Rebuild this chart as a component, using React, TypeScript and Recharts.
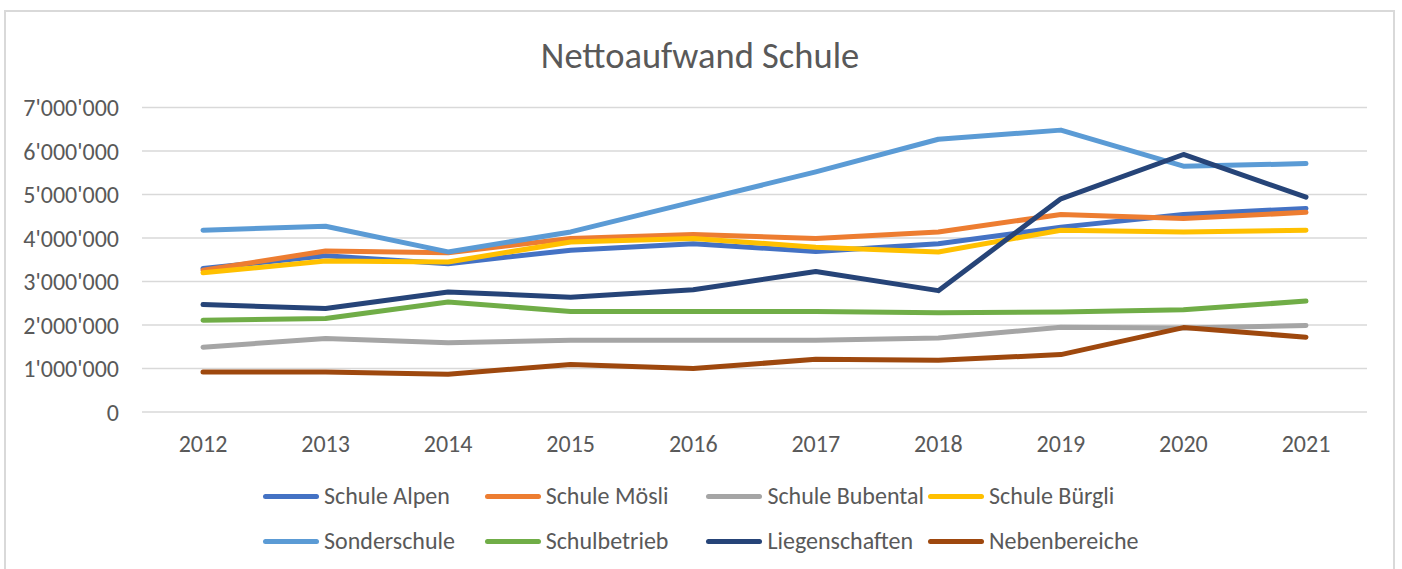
import React from "react";
import { LineChart, Line, XAxis, YAxis, CartesianGrid } from "recharts";

const years = ["2012", "2013", "2014", "2015", "2016", "2017", "2018", "2019", "2020", "2021"];

const schuleAlpen = [3300000, 3590000, 3410000, 3720000, 3870000, 3690000, 3870000, 4250000, 4540000, 4680000];
const schuleMoesli = [3260000, 3700000, 3660000, 3990000, 4080000, 3990000, 4140000, 4540000, 4450000, 4590000];
const schuleBubental = [1490000, 1690000, 1590000, 1650000, 1650000, 1650000, 1700000, 1950000, 1930000, 1990000];
const schuleBuergli = [3200000, 3470000, 3450000, 3910000, 3990000, 3790000, 3680000, 4180000, 4140000, 4180000];
const sonderschule = [4180000, 4270000, 3680000, 4140000, 4830000, 5520000, 6270000, 6480000, 5650000, 5710000];
const schulbetrieb = [2110000, 2150000, 2530000, 2310000, 2310000, 2310000, 2280000, 2300000, 2350000, 2550000];
const liegenschaften = [2470000, 2380000, 2760000, 2640000, 2810000, 3230000, 2790000, 4900000, 5920000, 4940000];
const nebenbereiche = [920000, 920000, 870000, 1090000, 1000000, 1210000, 1190000, 1320000, 1940000, 1720000];

const yTicks = [0, 1000000, 2000000, 3000000, 4000000, 5000000, 6000000, 7000000];

const series = [
  { key: "alpen", name: "Schule Alpen", values: schuleAlpen, color: "#4472C4" },
  { key: "moesli", name: "Schule Mösli", values: schuleMoesli, color: "#ED7D31" },
  { key: "bubental", name: "Schule Bubental", values: schuleBubental, color: "#A5A5A5" },
  { key: "buergli", name: "Schule Bürgli", values: schuleBuergli, color: "#FFC000" },
  { key: "sonder", name: "Sonderschule", values: sonderschule, color: "#5B9BD5" },
  { key: "betrieb", name: "Schulbetrieb", values: schulbetrieb, color: "#70AD47" },
  { key: "liegen", name: "Liegenschaften", values: liegenschaften, color: "#264478" },
  { key: "neben", name: "Nebenbereiche", values: nebenbereiche, color: "#9E480E" },
];

const data = years.map((y, i) => {
  const row: Record<string, string | number> = { year: y };
  series.forEach((s) => {
    row[s.key] = s.values[i];
  });
  return row;
});

const FONT = "Calibri, Carlito, 'Liberation Sans', Arial, sans-serif";
const TEXT = "#595959";

const fmt = (v: number) => {
  if (v === 0) return "0";
  return String(Math.round(v)).replace(/\B(?=(\d{3})+(?!\d))/g, "'");
};

export default function App() {
  return (
    <div style={{ position: "absolute", left: 0, top: 0, width: 1402, height: 569, background: "#fff", overflow: "hidden", fontFamily: FONT }}>
      <div style={{ position: "absolute", left: 4, top: 10, width: 1391, height: 600, border: "2px solid #D9D9D9", boxSizing: "border-box" }} />
      <div style={{ position: "absolute", left: 0, width: 1400, top: 38, textAlign: "center", fontSize: 36.5, lineHeight: "36px", color: TEXT }}>
        Nettoaufwand Schule
      </div>
      <div style={{ position: "absolute", left: 0, top: 0 }}>
        <LineChart width={1402} height={569} data={data} margin={{ top: 107.5, right: 35, bottom: 117, left: 42 }}>
          <CartesianGrid vertical={false} stroke="#D9D9D9" strokeWidth={1.5} />
          <XAxis
            dataKey="year"
            axisLine={false}
            tickLine={false}
            tickSize={0}
            tickMargin={23}
            height={40}
            padding={{ left: 61, right: 61 }}
            tick={{ fill: TEXT, fontSize: 24, fontFamily: FONT }}
            interval={0}
          />
          <YAxis
            domain={[0, 7000000]}
            ticks={yTicks}
            tickFormatter={fmt}
            axisLine={false}
            tickLine={false}
            tickSize={0}
            tickMargin={23}
            width={100}
            tick={{ fill: TEXT, fontSize: 24, fontFamily: FONT }}
            interval={0}
          />
          {series.map((s) => (
            <Line
              key={s.key}
              type="linear"
              dataKey={s.key}
              name={s.name}
              stroke={s.color}
              strokeWidth={5}
              strokeLinecap="round"
              strokeLinejoin="round"
              dot={false}
              activeDot={false}
              isAnimationActive={false}
            />
          ))}
        </LineChart>
      </div>
      {series.map((s, i) => {
        const col = i % 4;
        const row = Math.floor(i / 4);
        const left = 263 + col * 221.7;
        const cy = 496 + row * 45;
        return (
          <div key={s.key} style={{ position: "absolute", left, top: cy - 14, height: 28, display: "flex", alignItems: "center", whiteSpace: "nowrap" }}>
            <div style={{ width: 56, height: 5, borderRadius: 3, background: s.color }} />
            <span style={{ marginLeft: 5, fontSize: 24, color: TEXT, lineHeight: "28px" }}>{s.name}</span>
          </div>
        );
      })}
    </div>
  );
}
